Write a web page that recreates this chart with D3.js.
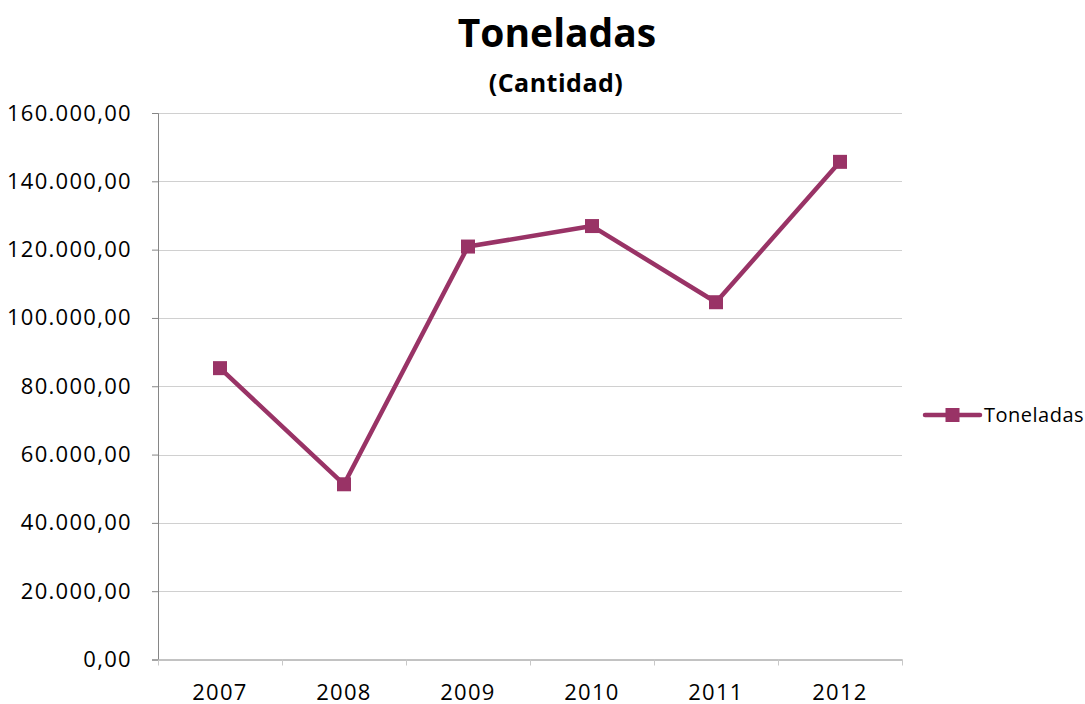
<!DOCTYPE html>
<html>
<head>
<meta charset="utf-8">
<script src="https://cdn.jsdelivr.net/npm/d3@7"></script>
<style>
  body { margin: 0; background: #fff; }
  svg text { font-family: "Open Sans", "Lato", sans-serif; fill: #000; }
</style>
</head>
<body>
<svg id="chart" width="1085" height="704"></svg>
<script>
// Chart data
const years = ["2007", "2008", "2009", "2010", "2011", "2012"];
const toneladas = [85300, 51300, 120900, 126900, 104600, 145700];
const yTicks = [0, 20000, 40000, 60000, 80000, 100000, 120000, 140000, 160000];

const color = "#993366";
const margin = { top: 113, right: 183, bottom: 44, left: 158 };
const width = 1085 - margin.left - margin.right;
const height = 704 - margin.top - margin.bottom - 0.5;

const svg = d3.select("#chart");

// Titles
svg.append("text")
  .attr("x", 557).attr("y", 47)
  .attr("text-anchor", "middle")
  .style("font-size", "39px").style("font-weight", "bold")
  .text("Toneladas");
svg.append("text")
  .attr("x", 556).attr("y", 92)
  .attr("text-anchor", "middle")
  .style("font-size", "25px").style("font-weight", "bold")
  .style("letter-spacing", "0.5px")
  .text("(Cantidad)");

const g = svg.append("g").attr("transform", `translate(${margin.left},${margin.top})`);

// Scales
const x = d3.scaleBand().domain(years).range([0, width]);
const y = d3.scaleLinear().domain([0, 160000]).range([height, 0]);

// Number format like 160.000,00
const fmt = d3.formatLocale({ decimal: ",", thousands: ".", grouping: [3], currency: ["", ""] }).format(",.2f");

// Gridlines
g.append("g")
  .selectAll("line")
  .data(yTicks.filter(d => d > 0))
  .enter().append("line")
  .attr("x1", 0).attr("x2", width)
  .attr("y1", d => Math.round(y(d)) + 0.5).attr("y2", d => Math.round(y(d)) + 0.5)
  .attr("stroke", "#d0d0d0").attr("stroke-width", 1);

// Y axis
const yAxis = g.append("g")
  .call(d3.axisLeft(y).tickValues(yTicks).tickFormat(fmt).tickSize(6).tickPadding(20));
yAxis.select(".domain").attr("stroke", "#868686");
yAxis.selectAll(".tick line").attr("stroke", "#868686");
yAxis.selectAll(".tick text")
  .style("font-size", "22px").style("letter-spacing", "1.3px");

// X axis
const xAxis = g.append("g")
  .attr("transform", `translate(0,${height})`)
  .call(d3.axisBottom(x).tickSize(0));
xAxis.select(".domain").attr("stroke", "#868686");
xAxis.selectAll(".tick text")
  .attr("y", 40).attr("dy", 0)
  .style("font-size", "22px").style("letter-spacing", "1.3px");
// category boundary ticks
xAxis.append("g")
  .selectAll("line")
  .data(years.concat(["end"]))
  .enter().append("line")
  .attr("x1", (d, i) => Math.round(i * x.step()) + 0.5)
  .attr("x2", (d, i) => Math.round(i * x.step()) + 0.5)
  .attr("y1", 0).attr("y2", 6)
  .attr("stroke", "#c8c8c8");

// Line
const line = d3.line()
  .x((d, i) => x(years[i]) + x.bandwidth() / 2)
  .y(d => y(d));

g.append("path")
  .datum(toneladas)
  .attr("d", line)
  .attr("fill", "none")
  .attr("stroke", color)
  .attr("stroke-width", 4.5)
  .attr("stroke-linejoin", "round");

// Markers
g.selectAll("rect.marker")
  .data(toneladas)
  .enter().append("rect")
  .attr("class", "marker")
  .attr("x", (d, i) => x(years[i]) + x.bandwidth() / 2 - 7)
  .attr("y", d => y(d) - 7)
  .attr("width", 14).attr("height", 14)
  .attr("fill", color);

// Legend
const legend = svg.append("g").attr("transform", "translate(925,415)");
legend.append("line")
  .attr("x1", 0).attr("x2", 55).attr("y1", 0).attr("y2", 0)
  .attr("stroke", color).attr("stroke-width", 4.5).attr("stroke-linecap", "round");
legend.append("rect")
  .attr("x", 20.5).attr("y", -7).attr("width", 14).attr("height", 14)
  .attr("fill", color);
legend.append("text")
  .attr("x", 59).attr("y", 7)
  .style("font-size", "20px").style("letter-spacing", "0.5px")
  .text("Toneladas");
</script>
</body>
</html>
